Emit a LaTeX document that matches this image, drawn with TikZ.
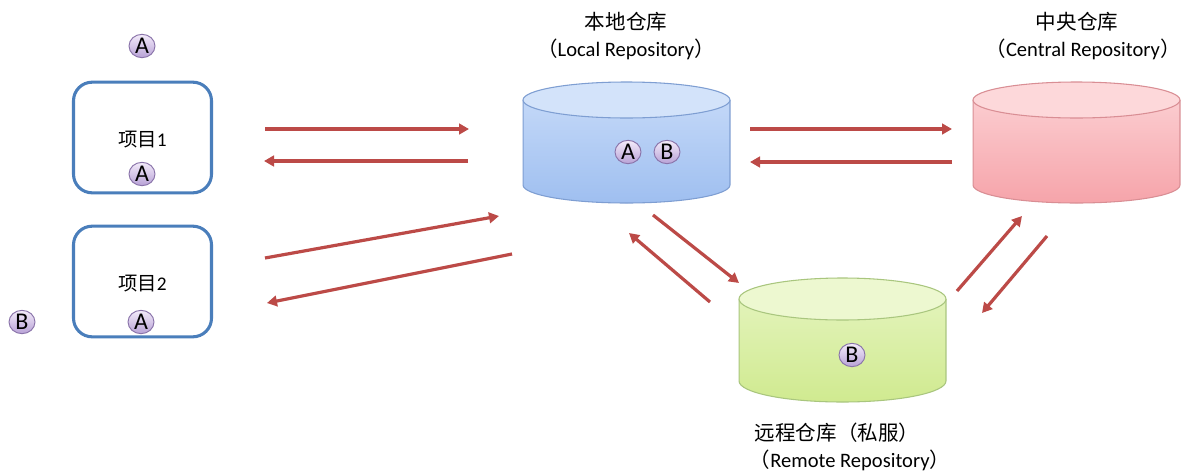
\documentclass[tikz,border=0pt]{standalone}
\usepackage{fontspec}
\setmainfont{Carlito}
\newfontfamily\cjk{Noto Sans CJK SC}
\usetikzlibrary{arrows.meta,shapes.geometric}
\definecolor{boxblue}{HTML}{4A7EBB}
\definecolor{arrowred}{HTML}{BC4A47}
\definecolor{badgeborder}{HTML}{8A74AA}
\definecolor{badgetop}{HTML}{F3EBFA}
\definecolor{badgebot}{HTML}{B8A2D6}
\definecolor{localtop}{HTML}{D3E3FA}
\definecolor{localbody1}{HTML}{C9DCF9}
\definecolor{localbody2}{HTML}{9FBFF0}
\definecolor{localline}{HTML}{7E9ED2}
\definecolor{centraltop}{HTML}{FDD8DA}
\definecolor{centralbody1}{HTML}{FCD3D6}
\definecolor{centralbody2}{HTML}{F6A4AA}
\definecolor{centralline}{HTML}{D98E94}
\definecolor{remotetop}{HTML}{EDF8D0}
\definecolor{remotebody1}{HTML}{E6F5C2}
\definecolor{remotebody2}{HTML}{D0EA90}
\definecolor{remoteline}{HTML}{A9C67E}
% cx, ytop, ybot, x radius, y radius, colour prefix
\newcommand\repodraw[6]{%
  \shade[top color=#6body1, bottom color=#6body2]
    ([xshift=-#4]#1,#2) -- ([xshift=-#4]#1,#3)
    arc[start angle=180,end angle=360,x radius=#4,y radius=#5]
    -- ([xshift=#4]#1,#2)
    arc[start angle=0,end angle=180,x radius=#4,y radius=#5] -- cycle;
  \draw[draw=#6line, line width=0.8pt]
    ([xshift=-#4]#1,#2) -- ([xshift=-#4]#1,#3)
    arc[start angle=180,end angle=360,x radius=#4,y radius=#5]
    -- ([xshift=#4]#1,#2);
  \filldraw[fill=#6top, draw=#6line, line width=0.8pt]
    (#1,#2) ellipse[x radius=#4, y radius=#5];
}
\begin{document}
\begin{tikzpicture}[x=0.75pt,y=-0.75pt,
  proj/.style={draw=boxblue, line width=2.3pt, rounded corners=14pt,
    minimum width=103.5pt, minimum height=83pt, inner sep=0pt},
  badge/.style={ellipse, draw=badgeborder, line width=0.7pt,
    top color=badgetop, bottom color=badgebot, minimum width=19.5pt,
    minimum height=17.5pt, inner sep=0pt, font=\fontsize{18}{18}\selectfont},
  flow/.style={draw=arrowred, line width=2.4pt,
    -{Triangle[length=7.5pt,width=8pt]}},
  lbl/.style={font=\fontsize{15.4}{19}\selectfont, align=center, inner sep=0pt},
  plbl/.style={font=\fontsize{14.5}{18}\selectfont, inner sep=0pt}
]
\fill[white] (0,0) rectangle (1193,472);
\useasboundingbox (0,0) rectangle (1193,472);

% projects
\node[proj] (p1) at (142.5,137.5) {};
\node[proj] (p2) at (142.5,281.5) {};
\node[plbl] (p1t) at (142.5,140) {{\cjk 项目}1};
\node[plbl] (p2t) at (142.5,284) {{\cjk 项目}2};

% repositories
\repodraw{626.5}{100}{185}{77.6pt}{13.5pt}{local}
\repodraw{1076.5}{100}{185}{77.6pt}{13.5pt}{central}
\repodraw{842.5}{299}{381}{77.6pt}{15.75pt}{remote}

% labels
\node[lbl] (l1) at (626,22) {\cjk 本地仓库};
\node[lbl] (l2) at (626,49) {{\cjk （}Local Repository{\cjk ）}};
\node[lbl] (c1) at (1077,22) {\cjk 中央仓库};
\node[lbl] (c2) at (1083,49) {{\cjk （}Central Repository{\cjk ）}};
\node[lbl] (r1) at (837,433) {\cjk 远程仓库（私服）};
\node[lbl] (r2) at (850,460) {{\cjk （}Remote Repository{\cjk ）}};

% badges
\node[badge] (bA0) at (142,46) {A};
\node[badge] (bA1) at (142,174) {A};
\node[badge] (bA2) at (141,322) {A};
\node[badge] (bB0) at (22,322) {B};
\node[badge] (bAl) at (628,152) {A};
\node[badge] (bBl) at (667,152) {B};
\node[badge] (bBr) at (852,355) {B};

% arrow end points
\coordinate (a1s) at (265,129);  \coordinate (a1e) at (469,129);
\coordinate (a2s) at (468,161);  \coordinate (a2e) at (264,161);
\coordinate (a3s) at (265,258);  \coordinate (a3e) at (499,216);
\coordinate (a4s) at (512,254);  \coordinate (a4e) at (267,303);
\coordinate (a5s) at (750,129);  \coordinate (a5e) at (952,129);
\coordinate (a6s) at (952,162);  \coordinate (a6e) at (750,162);
\coordinate (a7s) at (653,215);  \coordinate (a7e) at (739,283);
\coordinate (a8s) at (710,302);  \coordinate (a8e) at (629,233);
\coordinate (a9s) at (957,291);  \coordinate (a9e) at (1022,216);
\coordinate (a10s) at (1047,236); \coordinate (a10e) at (982,313);

\foreach \i in {1,...,10} {\draw[flow] (a\i s) -- (a\i e);}
\end{tikzpicture}
\end{document}
